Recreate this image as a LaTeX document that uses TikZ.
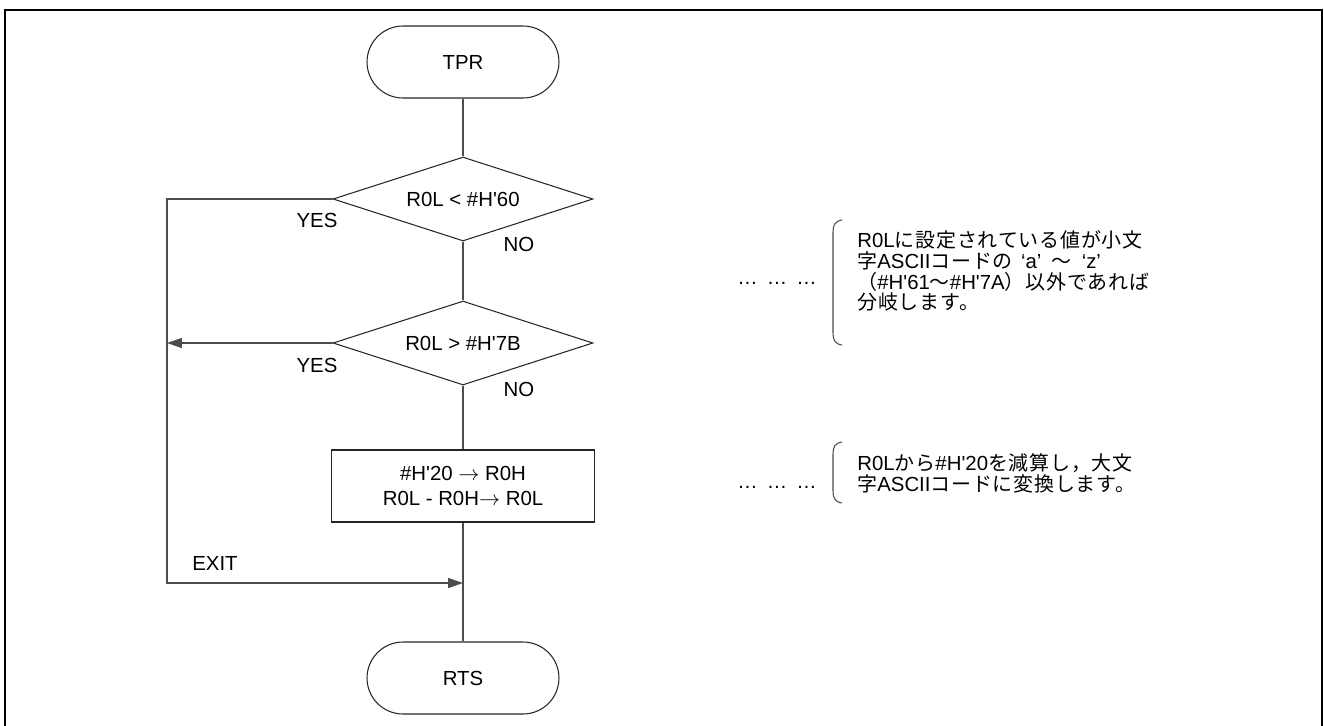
\documentclass[tikz,border=0pt]{standalone}
\usepackage{fontspec}
\setmainfont{Liberation Sans}[Ligatures=TeXOff]
\newfontfamily\jp{Noto Sans CJK JP}[Scale=0.98,LetterSpace=4]
\usetikzlibrary{arrows.meta,shapes.geometric,calc}

\begin{document}
\begin{tikzpicture}[x=0.02cm,y=-0.02cm,>={Triangle[length=8.5pt,width=5.7pt]},
  font=\fontsize{11.6}{13}\selectfont,
  line/.style={draw=black!70,line width=0.6pt},
  term node/.style={rectangle,draw=black!85,line width=0.6pt,rounded corners=0.72cm,
    minimum width=3.84cm,minimum height=1.44cm,inner sep=0pt},
  dec node/.style={diamond,draw=black!85,line width=0.6pt,aspect=3.1,
    minimum width=5.2cm,minimum height=1.68cm,inner sep=0pt},
  proc node/.style={rectangle,draw=black!85,line width=0.6pt,minimum width=5.26cm,
    minimum height=1.44cm,align=center,inner sep=0pt,font=\fontsize{11.6}{14.2}\selectfont},
  note node/.style={align=left,anchor=west,inner sep=0pt,font=\fontsize{11.6}{11.9}\selectfont},
  dots node/.style={inner sep=0pt}]

\useasboundingbox (0,0) rectangle (1324,725);

% frame
\draw[line width=1.1pt] (5,745) -- (5,10) -- (1322,10) -- (1322,745);

% flow
\node[term node] (tpr) at (463,62) {TPR};
\node[dec node] (lt) at (463,199) {R0L < \#H'60};
\node[dec node] (gt) at (463,343) {R0L > \#H'7B};
\node[proc node] (conv) at (463,486) {\#H'20 $\rightarrow$ R0H\\R0L - R0H$\rightarrow$ R0L};
\node[term node] (rts) at (463,678) {RTS};

\coordinate (yes1) at (167,199);
\coordinate (exit) at (167,583);
\coordinate (merge) at (463,583);

\draw[line] (tpr) -- (lt);
\draw[line] (lt) -- (gt);
\draw[line] (gt) -- (conv);
\draw[line] (conv) -- (rts);
\draw[line,->] (lt.west) -- (yes1) -- (exit) -- (merge);
\draw[line,->] (gt.west) -- (gt.west -| yes1);

\node (yesA) at (317,220) {YES};
\node (noA) at (519,244) {NO};
\node (yesB) at (317,365) {YES};
\node (noB) at (519,389) {NO};
\node (exitlbl) at (215,563) {EXIT};

% comments on the right
\node[dots node] (dotsA) at (777,283) {…\hspace{0.45em}…\hspace{0.45em}…};
\node[note node] (noteA) at (857,271) {R0L{\jp に設定されている値が小文}\\
  {\jp 字}ASCII{\jp コードの}\hspace{0.4em}‘a’\hspace{0.5em}{\jp ～}\hspace{0.5em}‘z’\\
  {\jp （}\#H'61{\jp ～}\#H'7A{\jp ）以外であれば}\\
  {\jp 分岐します。}};
\draw[line] (842,220) .. controls (835,221) and (833,225) .. (833,232) -- (833,333)
  .. controls (833,340) and (835,344) .. (842,345);

\node[dots node] (dotsB) at (777,487) {…\hspace{0.45em}…\hspace{0.45em}…};
\node[note node] (noteB) at (857,473) {R0L{\jp から}\#H'20{\jp を減算し，大文}\\
  {\jp 字}ASCII{\jp コードに変換します。}};
\draw[line] (842,442) .. controls (835,443) and (833,447) .. (833,454) -- (833,491)
  .. controls (833,498) and (835,502) .. (842,503);
\end{tikzpicture}
\end{document}
